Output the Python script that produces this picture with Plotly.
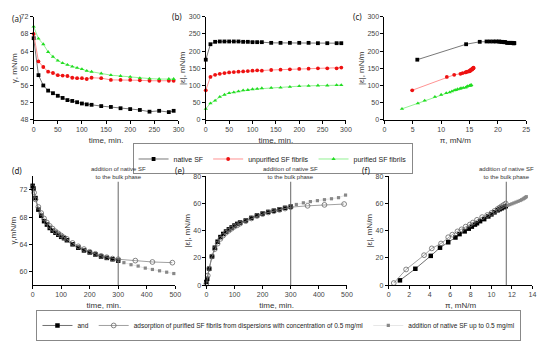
import plotly.graph_objects as go

# ---------------- data: top row ----------------
t_top = [0, 10, 20, 30, 40, 50, 60, 70, 80, 90, 100, 110, 120, 140, 160, 180, 200, 220, 240, 260, 280, 290]
gamma_native = [67.0, 58.4, 56.0, 54.8, 54.2, 53.6, 53.1, 52.6, 52.4, 52.1, 51.8, 51.6, 51.5, 51.2, 51.0, 50.7, 50.5, 50.3, 49.9, 50.1, 49.8, 50.1]
gamma_unpur = [68.0, 61.6, 60.3, 59.2, 58.9, 58.4, 58.3, 58.2, 57.8, 57.7, 57.7, 57.5, 57.8, 57.7, 57.3, 57.3, 57.3, 57.2, 57.1, 57.1, 57.1, 57.1]
gamma_pur = [69.7, 66.9, 65.6, 63.8, 62.7, 61.8, 61.2, 60.8, 60.4, 60.1, 59.8, 59.4, 59.2, 58.8, 58.4, 58.2, 58.0, 57.7, 57.6, 57.5, 57.5, 57.5]

eps_native = [175, 220, 227, 228, 228, 228, 228, 228, 227, 227, 226, 226, 226, 224, 224, 224, 224, 224, 223, 223, 223, 223]
eps_unpur = [86, 125, 131, 134, 136, 138, 139, 140, 141, 142, 143, 144, 143, 145, 146, 147, 148, 149, 150, 150, 150, 152]
eps_pur = [32, 48, 56, 67, 73, 78, 80, 83, 86, 87, 89, 90, 92, 93, 94, 96, 98, 99, 100, 100, 101, 101]

pi_native = [5.8, 14.4, 16.8, 18.0, 18.6, 19.2, 19.7, 20.2, 20.4, 20.7, 21.0, 21.2, 21.3, 21.6, 21.8, 22.1, 22.3, 22.5, 22.8, 22.7, 22.9, 22.8]
pi_unpur = [4.9, 11.0, 12.3, 13.4, 13.8, 14.3, 14.4, 14.6, 14.9, 15.0, 15.1, 15.2, 15.1, 15.2, 15.4, 15.4, 15.5, 15.5, 15.6, 15.6, 15.7, 15.7]
pi_pur = [3.1, 5.9, 7.1, 8.9, 10.0, 10.9, 11.5, 11.9, 12.3, 12.6, 12.9, 13.3, 13.5, 13.9, 14.3, 14.5, 14.7, 15.0, 15.1, 15.2, 15.3, 15.3]

# ---------------- data: bottom row ----------------
t_black = [0, 3, 10, 20, 30, 40, 50, 60, 70, 80, 90, 100, 110, 120, 140, 160, 180, 200, 220, 240, 260, 280, 300]
gamma_black = [72.6, 72.2, 70.8, 69.1, 68.2, 67.4, 66.9, 66.4, 66.0, 65.7, 65.4, 65.1, 64.9, 64.6, 64.0, 63.5, 63.1, 62.8, 62.5, 62.2, 62.0, 61.8, 61.6]
eps_black = [2.3, 4.6, 12, 21, 27.5, 31.9, 35.3, 37.6, 39.4, 41, 42.4, 43.8, 45, 46, 47.5, 49.4, 51.2, 52.6, 53.8, 54.7, 55.6, 56.8, 57.7]

t_circ = [0, 5, 10, 20, 30, 40, 50, 60, 70, 80, 90, 100, 110, 120, 140, 160, 180, 200, 220, 240, 260, 280, 300, 360, 420, 490]
gamma_circ = [72.4, 71.6, 70.6, 69.5, 68.6, 67.8, 67.2, 66.7, 66.3, 65.9, 65.6, 65.3, 65.0, 64.8, 64.2, 63.7, 63.3, 62.9, 62.6, 62.3, 62.1, 61.9, 61.8, 61.6, 61.4, 61.3]
eps_circ = [1, 7, 12, 21, 26.5, 30.5, 34, 36.5, 38.5, 40, 41.5, 43, 44, 45.2, 47, 49, 50.8, 52.2, 53.4, 54.3, 55.3, 56.3, 57.3, 58.3, 59, 59.6]

t_grey = [320, 345, 370, 395, 420, 445, 470, 495]
gamma_grey = [61.3, 61.0, 60.8, 60.5, 60.3, 60.1, 59.9, 59.7]
eps_grey = [59.3, 60.5, 61.4, 62.1, 62.8, 63.5, 64.3, 66.2]

pi_f_black = [1.1, 2.6, 4.1, 5.0, 5.8, 6.5, 6.9, 7.4, 7.8, 8.1, 8.4, 8.6, 8.9, 9.3, 9.7, 10.0, 10.3, 10.6, 10.8, 11.0, 11.2, 11.4]
eps_f_black = [3.5, 12, 21.5, 27.5, 31.5, 35, 37.5, 39.5, 41.5, 43, 44.5, 45.5, 47, 48.5, 50.5, 52, 53.5, 55, 55.8, 56.5, 57.3, 58]
pi_f_circ = [0.5, 1.7, 3.45, 4.2, 5.1, 5.8, 6.2, 6.7, 7.1, 7.5, 7.9, 8.2, 8.6, 9.1, 9.6, 10.0, 10.3, 10.6, 10.8, 11.0, 11.2, 11.4]
eps_f_circ = [1.5, 11.5, 22, 27, 30.6, 35.2, 37.1, 39.5, 41, 43, 44.5, 46, 48, 50, 51.5, 53, 54.5, 56, 57, 58, 59, 60]
pi_f_grey = [11.6, 11.8, 12.0, 12.2, 12.4, 12.6, 12.8, 12.95, 13.1, 13.2, 13.3, 13.4]
eps_f_grey = [58.6, 59.2, 59.8, 60.4, 61.0, 61.6, 62.2, 62.8, 63.4, 63.9, 64.4, 65.0]

addition_time = 300
addition_pi = 11.45

FONT = "Liberation Sans"
# the page body has an 8 px margin, so the figure is 8 px smaller in each direction
OFF = 8
W, H = 550 - OFF, 341 - OFF

def px(x):
    return min(max((x - OFF) / W, 0.0), 1.0)

def py(y):
    return min(max(1 - (y - OFF) / H, 0.0), 1.0)

fig = go.Figure()

top_series = [
    ("native SF", "black", "#555555", "square", gamma_native, eps_native, pi_native),
    ("unpurified SF fibrils", "#ee1111", "#ff7777", "circle", gamma_unpur, eps_unpur, pi_unpur),
    ("purified SF fibrils", "#22dd22", "#77ee77", "triangle-up", gamma_pur, eps_pur, pi_pur),
]
for name, mc, lc, sym, g, e, p in top_series:
    common = dict(mode="lines+markers", marker=dict(symbol=sym, color=mc, size=3.8),
                  line=dict(color=lc, width=0.8), cliponaxis=False, name=name)
    fig.add_trace(go.Scatter(x=t_top, y=g, xaxis="x", yaxis="y", showlegend=True, legend="legend", **common))
    fig.add_trace(go.Scatter(x=t_top, y=e, xaxis="x2", yaxis="y2", showlegend=False, **common))
    fig.add_trace(go.Scatter(x=p, y=e, xaxis="x3", yaxis="y3", showlegend=False, **common))

black_style = dict(mode="lines+markers", marker=dict(symbol="square", color="black", size=4.5),
                   line=dict(color="#333333", width=0.7), cliponaxis=False, name="and")
circ_style = dict(mode="lines+markers",
                  marker=dict(symbol="circle-open", color="#666666", size=4.8, line=dict(width=0.8)),
                  line=dict(color="#888888", width=0.8), cliponaxis=False,
                  name="adsorption of purified SF fibrils from dispersions with concentration of 0.5 mg/ml")
grey_style = dict(mode="lines+markers", marker=dict(symbol="square", color="#888888", size=3.2),
                  line=dict(color="#cccccc", width=0.5), cliponaxis=False,
                  name="addition of native SF up to 0.5 mg/ml")

bottom = [
    ("x4", "y4", t_circ, gamma_circ, t_black, gamma_black, t_grey, gamma_grey, True),
    ("x5", "y5", t_circ, eps_circ, t_black, eps_black, t_grey, eps_grey, False),
    ("x6", "y6", pi_f_circ, eps_f_circ, pi_f_black, eps_f_black, pi_f_grey, eps_f_grey, False),
]
for xa, ya, cx, cy, bx, by, gx, gy, leg in bottom:
    fig.add_trace(go.Scatter(x=bx, y=by, xaxis=xa, yaxis=ya, showlegend=leg, legend="legend2", **black_style))
    fig.add_trace(go.Scatter(x=cx, y=cy, xaxis=xa, yaxis=ya, showlegend=leg, legend="legend2", **circ_style))
    fig.add_trace(go.Scatter(x=gx, y=gy, xaxis=xa, yaxis=ya, showlegend=leg, legend="legend2", **grey_style))

def axis(domain, rng, dtick, title, anchor, standoff, tick0=None):
    d = dict(domain=domain, range=rng, dtick=dtick, anchor=anchor,
             showline=True, linecolor="black", linewidth=0.8,
             ticks="outside", ticklen=3, tickwidth=0.8, tickcolor="black",
             tickfont=dict(size=7, color="#444444", family=FONT),
             showgrid=False, zeroline=False,
             title=dict(text=title, font=dict(size=8, color="#333333", family=FONT), standoff=standoff))
    if tick0 is not None:
        d["tick0"] = tick0
    return d

ytop = [py(122), py(13)]
ybot = [py(296.7), py(181.7)]
XS, YS = 5, 1

fig.update_layout(
    width=W, height=H,
    margin=dict(l=0, r=0, t=0, b=0),
    paper_bgcolor="white", plot_bgcolor="white",
    font=dict(family=FONT, size=7, color="#333333"),
    xaxis=axis([px(32), px(179)], [0, 300], 50, "time, min.", "y", XS),
    yaxis=axis(ytop, [48, 72], 4, "γ, mN/m", "x", YS),
    xaxis2=axis([px(206.7), px(349)], [0, 300], 50, "time, min.", "y2", XS),
    yaxis2=axis(ytop, [0, 300], 50, "|ε|, mN/m", "x2", YS),
    xaxis3=axis([px(388), px(532)], [0, 25], 5, "π, mN/m", "y3", XS),
    yaxis3=axis(ytop, [0, 300], 50, "|ε|, mN/m", "x3", YS),
    xaxis4=axis([px(31), px(175.7)], [0, 500], 100, "time, min.", "y4", XS),
    yaxis4=axis(ybot, [58, 74], 4, "γ,mN/m", "x4", YS, tick0=60),
    xaxis5=axis([px(207.3), px(350)], [0, 500], 100, "time, min.", "y5", XS),
    yaxis5=axis(ybot, [0, 80], 20, "|ε|, mN/m", "x5", YS),
    xaxis6=axis([px(392.3), px(538.3)], [0, 14], 2, "π, mN/m", "y6", XS),
    yaxis6=axis(ybot, [0, 80], 20, "|ε|, mN/m", "x6", YS),
    legend=dict(orientation="h", x=px(274.5), xanchor="center", y=py(147), yanchor="top",
                bordercolor="#888888", borderwidth=1, bgcolor="white",
                font=dict(size=7, color="#222222", family=FONT), itemwidth=30,
                tracegroupgap=0),
    legend2=dict(orientation="h", x=px(281), xanchor="center", y=py(323), yanchor="top",
                 bordercolor="#888888", borderwidth=1, bgcolor="white",
                 font=dict(size=6.5, color="#222222", family=FONT), itemwidth=30,
                 tracegroupgap=0),
)

# vertical lines marking addition of native SF
for xa, ya, xv in [("x4", "y4", addition_time), ("x5", "y5", addition_time), ("x6", "y6", addition_pi)]:
    fig.add_shape(type="line", xref=xa, yref=ya + " domain", x0=xv, x1=xv, y0=0, y1=0.95,
                  line=dict(color="#666666", width=1))
    fig.add_annotation(x=xv, xref=xa, y=py(178), yref="paper", showarrow=False,
                       text="addition of native SF<br>to the bulk phase",
                       font=dict(size=6, color="#333333", family=FONT), xanchor="center", yanchor="middle")

labels = [("(a)", 8, 15, "left"), ("(b)", 177, 13, "center"), ("(c)", 361, 13, "center"),
          ("(d)", 8, 176, "left"), ("(e)", 181, 176, "center"), ("(f)", 369, 176, "center")]
for txt, lx, ly, anc in labels:
    fig.add_annotation(x=px(lx), y=py(ly), xref="paper", yref="paper", text=txt, showarrow=False,
                       font=dict(size=8, color="#222222", family="Noto Sans"),
                       xanchor=anc, yanchor="middle")

fig.write_html("out.html")
